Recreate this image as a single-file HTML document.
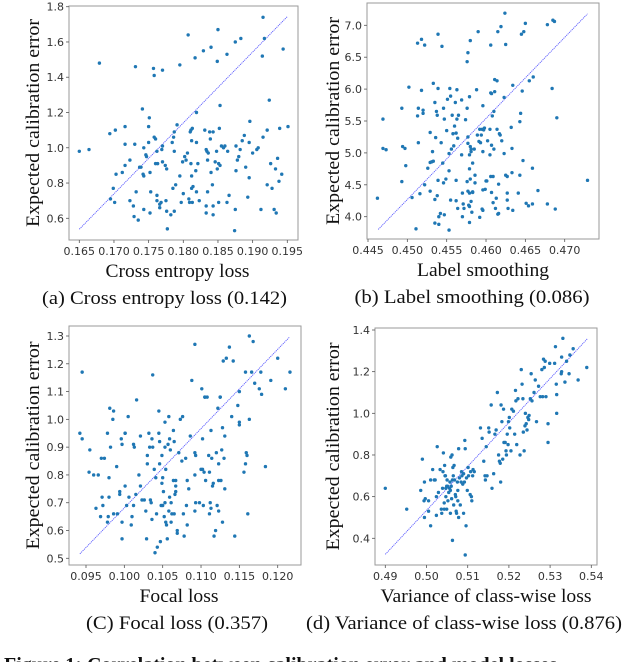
<!DOCTYPE html>
<html><head><meta charset="utf-8">
<style>
html,body{margin:0;padding:0;background:#fff;width:624px;height:662px;overflow:hidden}
svg{display:block}
</style></head>
<body>
<svg id="fig" width="624" height="662" viewBox="0 0 624 662" xmlns="http://www.w3.org/2000/svg"></svg>
<script>
// ---------- Panel (a) Cross entropy loss ----------
const aX=[.1650,.1664,.1679,.1694,.1702,.1699,.1695,.1701,.1703,.1712,.1716,.1716,.1716,.1723,.1723,.1728,.1729,.1730,.1731,.1732,.1735,.1737,.1739,.1741,.1743,.1742,.1743,.1743,.1746,.1747,.1750,.1751,.1750,.1752,.1753,.1752,.1757,.1758,.1758,.1760,.1762,.1760,.1763,.1762,.1762,.1766,.1766,.1768,.1770,.1770,.1769,.1770,.1774,.1776,.1776,.1775,.1777,.1782,.1786,.1784,.1787,.1787,.1785,.1787,.1791,.1789,.1795,.1795,.1797,.1799,.1800,.1802,.1804,.1806,.1807,.1808,.1809,.1810,.1811,.1813,.1812,.1811,.1812,.1812,.1814,.1813,.1817,.1819,.1819,.1818,.1821,.1819,.1823,.1829,.1831,.1833,.1834,.1836,.1835,.1835,.1833,.1833,.1838,.1839,.1840,.1840,.1842,.1843,.1843,.1843,.1846,.1848,.1849,.1850,.1849,.1851,.1852,.1853,.1853,.1851,.1855,.1858,.1860,.1863,.1863,.1864,.1866,.1875,.1876,.1876,.1875,.1874,.1878,.1880,.1883,.1882,.1885,.1888,.1890,.1893,.1895,.1896,.1895,.1900,.1906,.1908,.1912,.1914,.1915,.1915,.1917,.1921,.1921,.1924,.1926,.1928,.1931,.1933,.1934,.1936,.1938,.1939,.1942,.1944,.1951];
const aY=[.98,.99,1.48,1.08,1.10,.77,.71,.69,.85,.86,1.12,1.02,.90,.93,.70,.67,.61,1.02,1.46,.75,.59,.89,.89,1.22,1.00,.85,.84,.65,.96,.95,1.03,1.17,1.12,.86,.75,.63,1.45,1.41,1.06,1.05,.98,.91,.91,.73,.70,.66,.68,.69,1.44,1.01,.99,.92,.90,.88,.64,.70,.54,.62,1.06,1.03,1.09,.98,.77,.64,1.13,.79,1.47,.84,.69,.92,.74,.95,.93,.97,1.64,.71,.69,1.09,1.10,1.11,1.04,.91,.84,.77,.78,.69,1.51,1.20,1.03,.87,.91,.75,.70,1.55,1.10,.99,.98,.97,.93,.75,.67,.63,1.09,1.05,1.57,.86,.79,1.09,.62,.67,.92,.98,.88,1.67,1.49,.91,1.11,1.24,.90,.69,1.01,1.00,1.01,1.53,.69,.98,.73,1.60,1.01,.87,.65,.53,.93,.95,1.62,.99,1.04,1.07,.89,.72,.83,1.15,1.03,.97,.99,1.00,.65,1.52,1.06,1.74,1.62,1.10,.79,1.27,.91,.77,.65,.88,.63,.94,.81,1.11,.85,1.56,1.12];
const aXTicks=[0.165,0.170,0.175,0.180,0.185,0.190,0.195];
const aXTickLabels=["0.165","0.170","0.175","0.180","0.185","0.190","0.195"];
const aYTicks=[0.6,0.8,1.0,1.2,1.4,1.6,1.8];
const aYTickLabels=["0.6","0.8","1.0","1.2","1.4","1.6","1.8"];
const aFit=[0.1650,0.538,0.1950,1.744];

// ---------- Panel (b) Label smoothing ----------
const bX=[.4462,.4469,.4469,.4473,.4493,.4494,.4497,.4493,.4498,.4502,.4506,.4513,.4518,.4522,.4514,.4513,.4514,.4516,.4511,.4518,.4520,.4520,.4522,.4526,.4529,.4529,.4531,.4532,.4529,.4533,.4533,.4535,.4536,.4537,.4538,.4538,.4535,.4535,.4540,.4539,.4539,.4539,.4540,.4542,.4543,.4544,.4545,.4546,.4547,.4546,.4547,.4549,.4550,.4551,.4553,.4553,.4554,.4555,.4555,.4553,.4556,.4557,.4558,.4559,.4560,.4561,.4562,.4562,.4562,.4563,.4563,.4564,.4565,.4564,.4569,.4569,.4570,.4570,.4571,.4572,.4574,.4576,.4576,.4577,.4576,.4577,.4577,.4578,.4577,.4579,.4579,.4579,.4579,.4579,.4579,.4580,.4580,.4580,.4581,.4581,.4581,.4582,.4583,.4583,.4583,.4585,.4586,.4586,.4588,.4589,.4590,.4591,.4592,.4592,.4593,.4594,.4595,.4595,.4596,.4596,.4596,.4596,.4597,.4598,.4599,.4600,.4601,.4602,.4605,.4605,.4606,.4606,.4606,.4607,.4607,.4607,.4608,.4609,.4609,.4610,.4610,.4611,.4611,.4612,.4613,.4614,.4614,.4615,.4616,.4616,.4615,.4617,.4618,.4619,.4620,.4623,.4623,.4624,.4625,.4625,.4627,.4627,.4627,.4628,.4632,.4633,.4634,.4633,.4634,.4641,.4643,.4643,.4644,.4645,.4647,.4648,.4650,.4646,.4651,.4654,.4655,.4659,.4659,.4660,.4666,.4678,.4678,.4684,.4685,.4687,.4688,.4690,.4729];
const bY=[4.29,5.53,5.07,5.05,5.70,5.10,5.07,4.55,4.80,6.03,4.30,6.72,6.78,6.69,5.70,5.58,5.16,4.36,3.81,5.98,5.67,5.62,4.50,4.76,5.32,4.85,4.86,5.02,4.40,4.87,6.09,5.79,5.24,5.65,5.59,4.33,4.27,3.90,3.88,4.57,6.01,6.86,4.00,4.05,5.16,6.67,4.84,5.70,5.53,4.53,4.03,4.59,5.35,5.84,4.99,4.72,6.01,5.89,4.26,3.79,5.06,5.59,5.30,5.11,5.42,5.79,5.31,4.25,4.57,5.53,5.99,5.23,5.59,4.13,5.83,4.97,4.37,4.00,4.20,4.13,5.52,4.55,6.43,5.15,5.70,6.57,4.40,4.18,5.25,5.88,4.16,4.97,4.75,4.37,3.91,6.76,4.59,5.10,5.06,5.02,4.24,4.07,4.39,4.84,4.38,5.06,4.65,4.53,5.99,5.28,6.90,5.18,5.37,3.99,5.16,5.28,5.37,4.12,5.74,4.42,4.10,5.02,5.36,5.39,4.43,4.56,4.56,5.19,5.37,4.97,5.94,6.69,4.63,5.93,4.38,5.12,5.58,4.22,4.63,5.06,5.65,5.96,6.15,4.13,4.29,6.13,5.37,4.04,4.05,4.51,6.90,5.30,5.28,6.98,5.19,4.99,5.87,7.19,4.65,6.70,4.63,4.37,4.26,4.13,5.40,5.07,4.10,4.69,6.06,4.37,4.65,5.49,5.62,6.86,4.88,6.90,7.03,5.97,4.21,4.17,6.13,4.20,4.76,6.19,4.41,7.01,4.20,6.01,7.08,7.06,4.12,5.55,4.57];
const bXTicks=[0.445,0.450,0.455,0.460,0.465,0.470];
const bXTickLabels=["0.445","0.450","0.455","0.460","0.465","0.470"];
const bYTicks=[4.0,4.5,5.0,5.5,6.0,6.5,7.0];
const bYTickLabels=["4.0","4.5","5.0","5.5","6.0","6.5","7.0"];
const bFit=[0.4463,3.80,0.4729,7.18];

// ---------- Panel (c) Focal loss ----------
const cX=[.0942,.0945,.0945,.0955,.0954,.0960,.0966,.0963,.0969,.0970,.0971,.0972,.0974,.0978,.0978,.0979,.0980,.0980,.0981,.0982,.0985,.0986,.0986,.0990,.0991,.0994,.0994,.0996,.0997,.0997,.0997,.1001,.1001,.1001,.1003,.1005,.1006,.1010,.1009,.1012,.1013,.1012,.1015,.1016,.1019,.1021,.1021,.1023,.1026,.1028,.1029,.1030,.1030,.1032,.1033,.1034,.1035,.1036,.1037,.1036,.1037,.1039,.1040,.1041,.1042,.1043,.1045,.1045,.1046,.1047,.1046,.1048,.1049,.1049,.1050,.1050,.1051,.1052,.1053,.1053,.1053,.1054,.1054,.1055,.1056,.1057,.1058,.1058,.1059,.1059,.1060,.1061,.1061,.1062,.1064,.1064,.1065,.1065,.1066,.1067,.1067,.1067,.1069,.1069,.1071,.1073,.1075,.1076,.1077,.1078,.1080,.1081,.1082,.1082,.1084,.1086,.1088,.1092,.1092,.1093,.1092,.1093,.1092,.1098,.1100,.1101,.1102,.1102,.1103,.1104,.1105,.1105,.1106,.1108,.1110,.1111,.1111,.1112,.1113,.1114,.1115,.1116,.1113,.1117,.1119,.1120,.1121,.1122,.1123,.1123,.1123,.1125,.1125,.1126,.1127,.1128,.1128,.1129,.1130,.1131,.1131,.1133,.1137,.1140,.1142,.1144,.1148,.1150,.1150,.1150,.1156,.1158,.1158,.1159,.1160,.1161,.1163,.1163,.1166,.1168,.1170,.1176,.1178,.1179,.1184,.1191,.1200,.1210,.1216];
const cY=[.95,.93,1.17,.89,.81,.80,.80,.68,.65,.86,.72,.69,.86,.95,.63,.65,.79,.72,1.04,.90,1.00,1.03,.66,.83,.66,.74,.73,.93,.63,.91,.57,.95,.95,.76,.69,1.01,.72,.65,.62,.91,.90,.69,.73,1.07,.80,.94,.76,.71,.71,.67,.57,.87,.84,.95,.90,.71,.70,.93,.90,.64,1.16,.82,.52,.79,.66,.54,1.03,.95,.84,.56,.92,.69,.87,.77,.79,.69,.74,.65,.99,.70,.90,.63,.82,.62,.57,.91,.67,1.01,.72,.93,.89,.63,.70,.66,.96,.78,.66,.92,.73,.78,.76,.74,.60,.59,.88,1.00,.85,1.01,.66,.58,.86,.69,.78,.62,.75,.94,1.14,1.27,.88,.87,.80,.70,.67,.70,.82,1.11,.82,.93,.69,.81,1.08,1.08,.78,1.08,.87,.66,.81,.70,.68,.86,.76,.77,.96,.58,.60,.88,.69,1.04,.67,.78,.84,1.08,1.08,.78,.89,.63,.97,1.21,.86,.75,.94,1.22,1.26,1.01,1.21,.58,1.05,1.10,.99,.98,.81,1.17,.84,.88,.87,.66,1.00,1.30,1.17,1.28,1.13,1.11,1.17,1.09,.83,1.14,1.22,1.11,1.17];
const cXTicks=[0.095,0.100,0.105,0.110,0.115,0.120];
const cXTickLabels=["0.095","0.100","0.105","0.110","0.115","0.120"];
const cYTicks=[0.5,0.6,0.7,0.8,0.9,1.0,1.1,1.2,1.3];
const cYTickLabels=["0.5","0.6","0.7","0.8","0.9","1.0","1.1","1.2","1.3"];
const cFit=[0.0942,0.516,0.1215,1.295];

// ---------- Panel (d) Variance of class-wise loss ----------
const dX=[.4900,.4952,.4986,.4990,.4994,.4995,.4995,.4997,.5005,.5005,.5010,.5010,.5015,.5019,.5021,.5024,.5024,.5026,.5029,.5033,.5036,.5037,.5039,.5040,.5041,.5043,.5043,.5044,.5045,.5046,.5047,.5047,.5049,.5049,.5050,.5051,.5052,.5054,.5056,.5057,.5058,.5058,.5059,.5060,.5061,.5062,.5063,.5063,.5064,.5065,.5066,.5067,.5068,.5070,.5071,.5072,.5073,.5075,.5076,.5076,.5078,.5078,.5080,.5082,.5084,.5085,.5086,.5088,.5090,.5090,.5092,.5093,.5094,.5094,.5096,.5097,.5099,.5101,.5102,.5106,.5107,.5109,.5110,.5112,.5113,.5116,.5131,.5135,.5139,.5142,.5143,.5145,.5147,.5151,.5152,.5157,.5159,.5163,.5166,.5169,.5172,.5175,.5177,.5179,.5180,.5181,.5183,.5185,.5187,.5188,.5191,.5193,.5194,.5196,.5198,.5199,.5201,.5202,.5205,.5207,.5211,.5214,.5216,.5217,.5219,.5222,.5227,.5230,.5232,.5234,.5235,.5237,.5239,.5240,.5242,.5244,.5246,.5248,.5249,.5252,.5254,.5256,.5261,.5264,.5267,.5272,.5276,.5280,.5282,.5284,.5286,.5288,.5290,.5295,.5295,.5299,.5313,.5315,.5316,.5316,.5311,.5327,.5328,.5328,.5331,.5336,.5340,.5346,.5348,.5356,.5368,.5389];
const dY=[.64,.54,.63,.78,.58,.67,.50,.59,.58,.53,.68,.46,.73,.68,.68,.60,.51,.84,.62,.73,.54,.52,.64,.72,.81,.57,.54,.75,.70,.70,.64,.60,.54,.65,.68,.65,.58,.62,.64,.67,.52,.63,.79,.65,.59,.80,.68,.39,.74,.70,.56,.75,.68,.61,.60,.53,.52,.67,.58,.63,.50,.83,.69,.56,.67,.72,.70,.66,.52,.71,.67,.87,.83,.32,.46,.69,.63,.74,.70,.61,.72,.60,.58,.70,.73,.72,.93,.88,.77,.70,.68,.84,.70,.93,.91,1.04,.64,.71,.90,.92,1.10,.80,.77,.76,.67,1.04,.96,.78,1.02,.86,.86,.82,.80,.90,.85,.96,.98,.93,.82,1.02,1.01,.90,1.11,1.06,.85,1.07,.80,1.21,1.14,1.07,.91,.82,.94,1.00,.95,.92,.98,.97,.99,1.07,1.19,1.06,1.10,1.16,.96,1.13,1.08,1.21,1.08,1.26,1.22,1.25,1.08,.95,.86,1.24,1.32,1.14,1.09,1.00,1.24,1.19,1.20,1.27,1.36,1.15,1.25,1.19,1.28,1.31,1.16,1.22];
const dXTicks=[0.49,0.50,0.51,0.52,0.53,0.54];
const dXTickLabels=["0.49","0.50","0.51","0.52","0.53","0.54"];
const dYTicks=[0.4,0.6,0.8,1.0,1.2,1.4];
const dYTickLabels=["0.4","0.6","0.8","1.0","1.2","1.4"];
const dFit=[0.490,0.323,0.539,1.357];

const NS="http://www.w3.org/2000/svg";
const svg=document.getElementById('fig');
function mk(tag,attrs,parent){const e=document.createElementNS(NS,tag);for(const k in attrs)e.setAttribute(k,attrs[k]);(parent||svg).appendChild(e);return e;}
function lin(d0,d1,r0,r1){return v=>r0+(v-d0)/(d1-d0)*(r1-r0);}

function panel(id,frame,xs,ys,X,Y,xT,xTL,yT,yTL,fit,xTitle,caption,capX,capW,xTitleW,yTitleX){
  const g=mk('g',{});
  
  
  const fr=mk('rect',{x:frame[0],y:frame[1],width:frame[2]-frame[0],height:frame[3]-frame[1],fill:'none',stroke:'#9a9a9a','stroke-width':1},g);
  
  
  xT.forEach((v,i)=>{
    const px=xs(v);
    const t=mk('line',{x1:px,x2:px,y1:frame[3],y2:frame[3]+3,stroke:'#555','stroke-width':0.8},g);
    
    
    const l=mk('text',{x:px,y:frame[3]+15,'text-anchor':'middle','font-family':'DejaVu Sans, Liberation Sans, sans-serif','font-size':11,fill:'#333'},g);
    l.textContent=xTL[i];
    
    
  });
  yT.forEach((v,i)=>{
    const py=ys(v);
    const t=mk('line',{x1:frame[0]-3,x2:frame[0],y1:py,y2:py,stroke:'#555','stroke-width':0.8},g);
    
    
    const l=mk('text',{x:frame[0]-5,y:py+4,'text-anchor':'end','font-family':'DejaVu Sans, Liberation Sans, sans-serif','font-size':11,fill:'#333'},g);
    l.textContent=yTL[i];
    
    
  });
  const ln=mk('line',{x1:xs(fit[0]),y1:ys(fit[1]),x2:xs(fit[2]),y2:ys(fit[3]),stroke:'#5a5aff','stroke-width':0.9,'stroke-dasharray':'1.2,0.8'},g);
  
  
  const n=Math.min(X.length,Y.length);
  for(let i=0;i<n;i++){
    const c=mk('circle',{cx:xs(X[i]),cy:ys(Y[i]),r:1.7,fill:'#1f77b4'},g);
    
    
  }
  const xt=mk('text',{x:(frame[0]+frame[2])/2+(id==='a'||id==='c'?-6:0),y:frame[3]+37,'text-anchor':'middle','font-family':'Liberation Serif, serif','font-size':19,fill:'#111',textLength:xTitleW,lengthAdjust:'spacingAndGlyphs'},g);
  xt.textContent=xTitle;
  
  
  const ym=(frame[1]+frame[3])/2;
  const yt=mk('text',{x:0,y:0,transform:`translate(${yTitleX},${ym}) rotate(-90)`,'text-anchor':'middle','font-family':'Liberation Serif, serif','font-size':19,fill:'#111',textLength:208,lengthAdjust:'spacingAndGlyphs'},g);
  yt.textContent='Expected calibration error';
  
  
  const cp=mk('text',{x:capX,y:frame[3]+64,'text-anchor':'middle','font-family':'Liberation Serif, serif','font-size':19,fill:'#111',textLength:capW,lengthAdjust:'spacingAndGlyphs'},g);
  cp.textContent=caption;
  
  
}

panel('a',[69,6,298,240],lin(0.165,0.195,79.3,287.3),lin(0.6,1.8,218.3,6.7),aX,aY,aXTicks,aXTickLabels,aYTicks,aYTickLabels,aFit,
  'Cross entropy loss','(a) Cross entropy loss (0.142)',164.5,245,144,39);
panel('b',[367,3,599,239],lin(0.445,0.470,368,564.7),lin(4.0,7.0,216.7,25.3),bX,bY,bXTicks,bXTickLabels,bYTicks,bYTickLabels,bFit,
  'Label smoothing','(b) Label smoothing (0.086)',472,235,132,339);
panel('c',[69,326,301,565],lin(0.095,0.120,86,277.7),lin(0.5,1.3,558.3,336),cX,cY,cXTicks,cXTickLabels,cYTicks,cYTickLabels,cFit,
  'Focal loss','(C) Focal loss (0.357)',177,182,79,39);
panel('d',[375,328,597,565],lin(0.49,0.54,385.3,591.3),lin(0.4,1.4,538.3,330),dX,dY,dXTicks,dXTickLabels,dYTicks,dYTickLabels,dFit,
  'Variance of class-wise loss','(d) Variance of class-wise loss (0.876)',464,316,211,339);

const fc=mk('text',{x:4,y:671,'font-family':'Liberation Serif, serif','font-size':20,'font-weight':'bold',fill:'#111'});
fc.textContent='Figure 1: Correlation between calibration error and model losses';


</script>
</body></html>
